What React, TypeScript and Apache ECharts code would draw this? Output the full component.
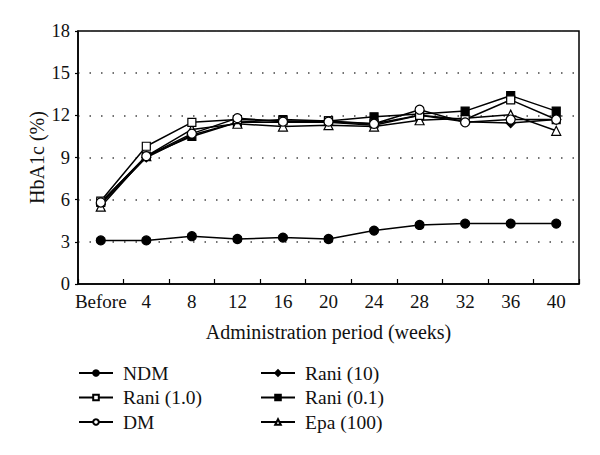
import React, { useEffect, useRef } from "react";
import * as echarts from "echarts";

const categories = ["Before", "4", "8", "12", "16", "20", "24", "28", "32", "36", "40"];
const yTicks = [0, 3, 6, 9, 12, 15, 18];
const ndm = [3.1, 3.1, 3.4, 3.2, 3.3, 3.2, 3.8, 4.2, 4.3, 4.3, 4.3];
const rani10 = [5.7, 9.0, 10.6, 11.5, 11.5, 11.5, 11.3, 12.0, 11.55, 11.45, 11.7];
const rani01 = [5.8, 9.1, 10.5, 11.5, 11.7, 11.6, 11.9, 12.1, 12.3, 13.4, 12.3];
const epa100 = [5.5, 9.1, 11.0, 11.4, 11.2, 11.3, 11.2, 11.65, 11.8, 12.05, 10.9];
const rani1 = [5.9, 9.8, 11.5, 11.7, 11.6, 11.6, 11.4, 12.0, 11.7, 13.1, 11.7];
const dm = [5.8, 9.1, 10.7, 11.8, 11.55, 11.55, 11.4, 12.4, 11.5, 11.7, 11.7];

const FONT = "Liberation Serif";

function mk(name: string, data: number[], symbol: string, size: number, filled: boolean) {
  return {
    name,
    type: "line",
    data,
    symbol,
    symbolSize: size,
    showAllSymbol: true,
    lineStyle: { color: "#000", width: 1.5 },
    itemStyle: {
      color: filled ? "#000" : "#fff",
      borderColor: "#000",
      borderWidth: 1.2,
    },
    emphasis: { disabled: true },
  };
}

export default function App() {
  const ref = useRef<HTMLDivElement>(null);
  useEffect(() => {
    if (!ref.current) return;
    const chart = echarts.init(ref.current, undefined, { renderer: "svg" });
    const legendText = {
      fontFamily: FONT,
      fontSize: 19.5,
      color: "#111",
      lineHeight: 20,
      padding: [0, 0, 0, 5],
    };
    chart.setOption({
      animation: false,
      backgroundColor: "#fff",
      textStyle: { fontFamily: FONT },
      grid: {
        left: 78,
        top: 31,
        right: 21,
        bottom: 171,
        show: true,
        borderColor: "#000",
        borderWidth: 1.5,
      },
      legend: [
        {
          data: ["NDM", "Rani (1.0)", "DM"],
          orient: "vertical",
          left: 78,
          top: 363,
          padding: 0,
          itemWidth: 34,
          itemHeight: 7,
          itemGap: 4.5,
          textStyle: legendText,
          selectedMode: false,
        },
        {
          data: ["Rani (10)", "Rani (0.1)", "Epa (100)"],
          orient: "vertical",
          left: 260,
          top: 363,
          padding: 0,
          itemWidth: 34,
          itemHeight: 7,
          itemGap: 4.5,
          textStyle: legendText,
          selectedMode: false,
        },
      ],
      xAxis: {
        type: "category",
        data: categories,
        boundaryGap: true,
        name: "Administration period (weeks)",
        nameLocation: "middle",
        nameGap: 38,
        nameMoveOverlap: false,
        nameTextStyle: { fontFamily: FONT, fontSize: 20, color: "#111" },
        axisLine: { lineStyle: { color: "#000", width: 1.5 } },
        axisTick: { show: true, inside: true, length: 5, lineStyle: { color: "#000", width: 1.2 } },
        axisLabel: { fontFamily: FONT, fontSize: 19, color: "#111", margin: 8, interval: 0 },
        splitLine: { show: false },
      },
      yAxis: {
        type: "value",
        min: yTicks[0],
        max: yTicks[yTicks.length - 1],
        interval: 3,
        name: "HbA1c (%)",
        nameLocation: "middle",
        nameGap: 31,
        nameMoveOverlap: false,
        nameTextStyle: { fontFamily: FONT, fontSize: 20, color: "#111" },
        axisLine: { show: true, lineStyle: { color: "#000", width: 1.5 } },
        axisTick: { show: true, inside: false, length: 3, lineStyle: { color: "#000", width: 1.2 } },
        axisLabel: { fontFamily: FONT, fontSize: 18.5, color: "#111", margin: 8 },
        splitLine: {
          show: true,
          lineStyle: { color: "#444", width: 1.5, type: [1.5, 10] },
        },
      },
      series: [
        mk("NDM", ndm, "circle", 9, true),
        mk("Rani (10)", rani10, "diamond", 9, true),
        mk("Rani (0.1)", rani01, "rect", 8, true),
        mk("Epa (100)", epa100, "triangle", 9, false),
        mk("Rani (1.0)", rani1, "rect", 8, false),
        mk("DM", dm, "circle", 9, false),
      ],
    });
    return () => chart.dispose();
  }, []);
  return <div ref={ref} style={{ width: 600, height: 455, margin: -8 }} />;
}
